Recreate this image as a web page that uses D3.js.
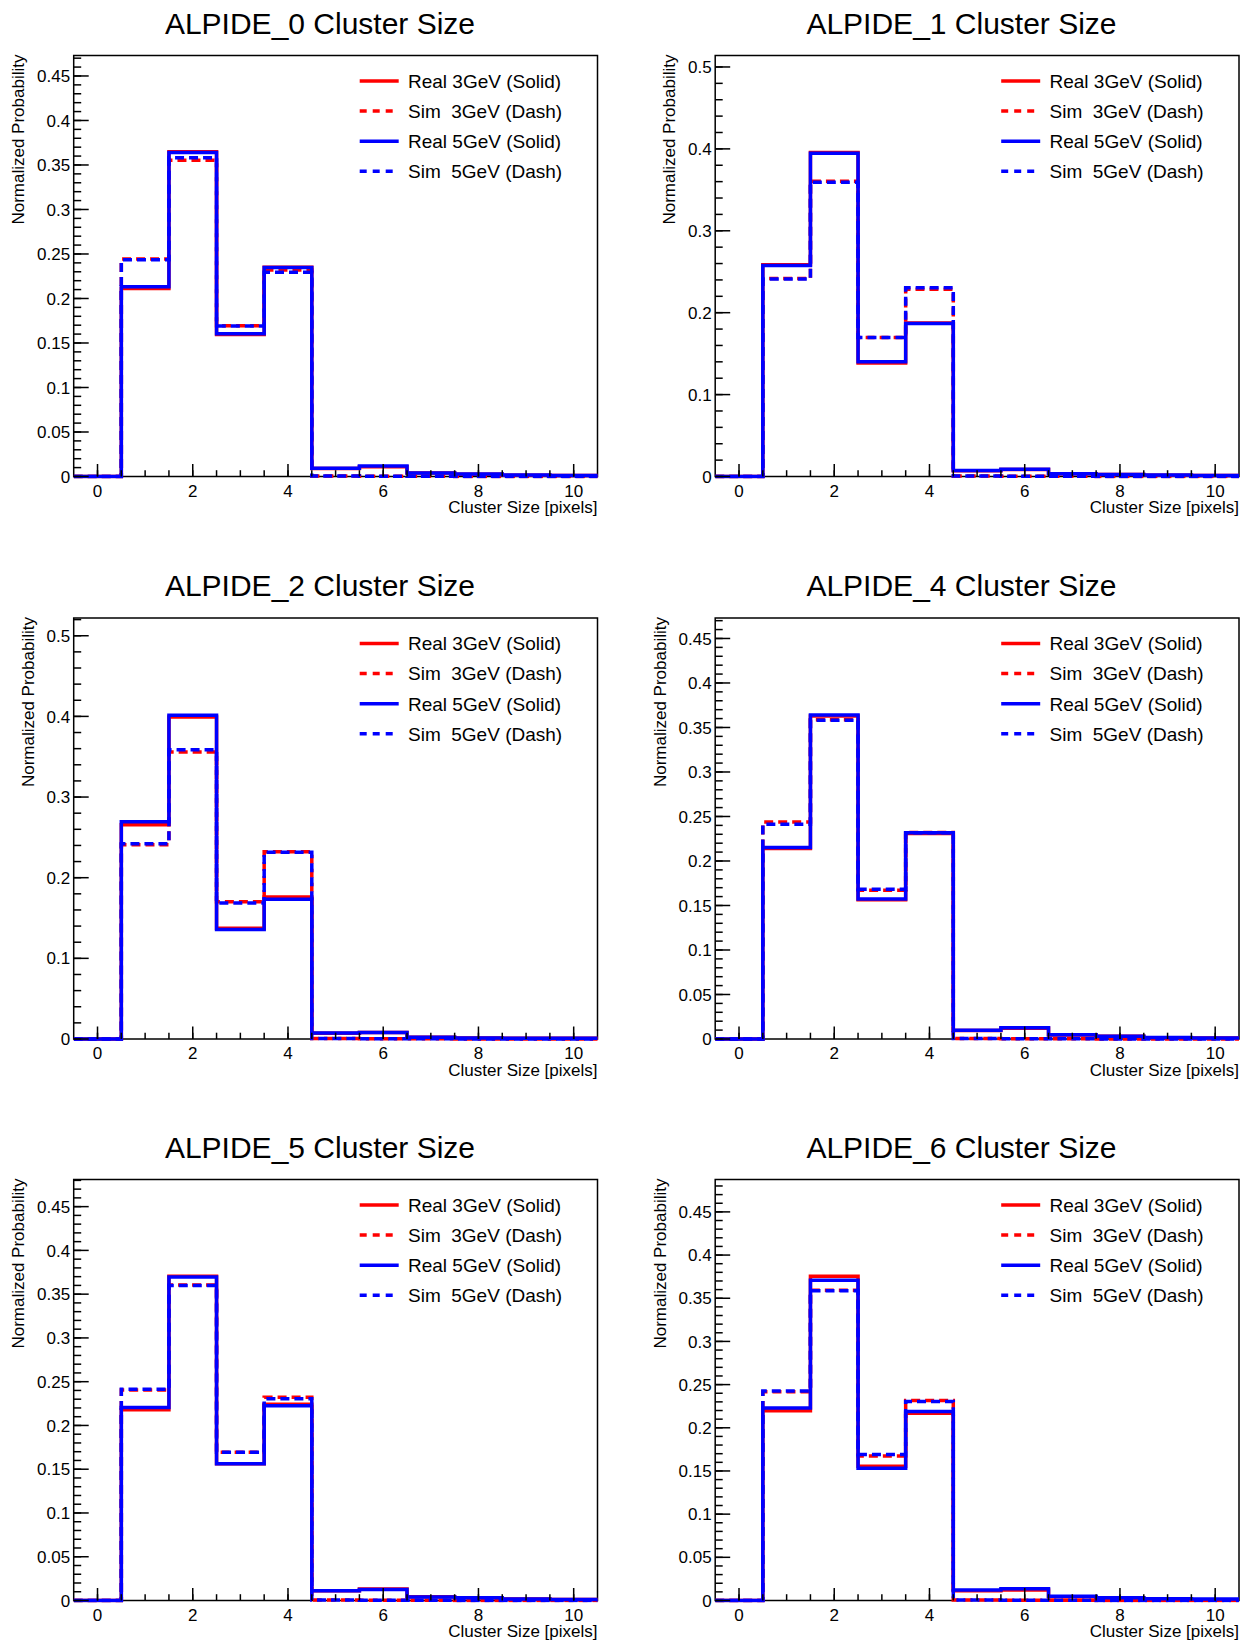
<!DOCTYPE html>
<html>
<head>
<meta charset="utf-8">
<script src="https://cdn.jsdelivr.net/npm/d3@7"></script>
<style>
  html, body { margin: 0; padding: 0; background: #fff; }
  svg { display: block; font-family: "Liberation Sans", Arial, Helvetica, sans-serif; }
  text { white-space: pre; fill: #000; }
</style>
</head>
<body>
<svg id="chart" width="1246" height="1644"></svg>
<script>
// ---- data -------------------------------------------------------------
const panelTitles = [
  "ALPIDE_0 Cluster Size", "ALPIDE_1 Cluster Size",
  "ALPIDE_2 Cluster Size", "ALPIDE_4 Cluster Size",
  "ALPIDE_5 Cluster Size", "ALPIDE_6 Cluster Size"
];
// cluster size bins 0..10
const clusterSizes = [0, 1, 2, 3, 4, 5, 6, 7, 8, 9, 10];

// normalized probabilities per detector, one row per ALPIDE (0,1,2,4,5,6)
const real3GeV = [
  [0, 0.2113, 0.3650, 0.1595, 0.2352, 0.0090, 0.0110, 0.0038, 0.0025, 0.0015, 0.0010],
  [0, 0.2585, 0.3955, 0.1387, 0.1875, 0.0070, 0.0085, 0.0033, 0.0024, 0.0016, 0.0012],
  [0, 0.2658, 0.3994, 0.1374, 0.1762, 0.0070, 0.0080, 0.0022, 0.0013, 0.0009, 0.0008],
  [0, 0.2140, 0.3630, 0.1565, 0.2309, 0.0095, 0.0120, 0.0045, 0.0030, 0.0015, 0.0011],
  [0, 0.2178, 0.3705, 0.1562, 0.2242, 0.0110, 0.0130, 0.0042, 0.0032, 0.0016, 0.0012],
  [0, 0.2196, 0.3755, 0.1555, 0.2168, 0.0113, 0.0121, 0.0042, 0.0030, 0.0015, 0.0010]
];
const sim3GeV = [
  [0, 0.2445, 0.3553, 0.1695, 0.2320, 0.0005, 0.0003, 0.0002, 0.0001, 0.0001, 0.0001],
  [0, 0.2418, 0.3605, 0.1697, 0.2285, 0.0005, 0.0003, 0.0002, 0.0001, 0.0001, 0.0001],
  [0, 0.2408, 0.3559, 0.1702, 0.2322, 0.0005, 0.0003, 0.0002, 0.0001, 0.0001, 0.0001],
  [0, 0.2438, 0.3588, 0.1670, 0.2320, 0.0005, 0.0003, 0.0002, 0.0001, 0.0001, 0.0001],
  [0, 0.2405, 0.3606, 0.1693, 0.2322, 0.0005, 0.0003, 0.0002, 0.0001, 0.0001, 0.0001],
  [0, 0.2417, 0.3594, 0.1672, 0.2317, 0.0005, 0.0003, 0.0002, 0.0001, 0.0001, 0.0001]
];
const real5GeV = [
  [0, 0.2133, 0.3640, 0.1604, 0.2348, 0.0094, 0.0117, 0.0039, 0.0027, 0.0016, 0.0010],
  [0, 0.2575, 0.3946, 0.1400, 0.1867, 0.0072, 0.0089, 0.0034, 0.0025, 0.0017, 0.0013],
  [0, 0.2693, 0.4015, 0.1357, 0.1732, 0.0073, 0.0082, 0.0022, 0.0013, 0.0009, 0.0008],
  [0, 0.2152, 0.3639, 0.1573, 0.2316, 0.0098, 0.0125, 0.0047, 0.0031, 0.0016, 0.0012],
  [0, 0.2206, 0.3697, 0.1562, 0.2226, 0.0111, 0.0127, 0.0040, 0.0032, 0.0016, 0.0012],
  [0, 0.2228, 0.3707, 0.1531, 0.2188, 0.0121, 0.0137, 0.0048, 0.0032, 0.0020, 0.0016]
];
const sim5GeV = [
  [0, 0.2435, 0.3580, 0.1690, 0.2295, 0.0005, 0.0003, 0.0002, 0.0001, 0.0001, 0.0001],
  [0, 0.2410, 0.3594, 0.1697, 0.2305, 0.0005, 0.0003, 0.0002, 0.0001, 0.0001, 0.0001],
  [0, 0.2421, 0.3585, 0.1685, 0.2314, 0.0005, 0.0003, 0.0002, 0.0001, 0.0001, 0.0001],
  [0, 0.2414, 0.3580, 0.1683, 0.2316, 0.0005, 0.0003, 0.0002, 0.0001, 0.0001, 0.0001],
  [0, 0.2413, 0.3598, 0.1693, 0.2306, 0.0005, 0.0003, 0.0002, 0.0001, 0.0001, 0.0001],
  [0, 0.2425, 0.3586, 0.1692, 0.2305, 0.0005, 0.0003, 0.0002, 0.0001, 0.0001, 0.0001]
];

const seriesNames  = ["Real 3GeV (Solid)", "Sim  3GeV (Dash)", "Real 5GeV (Solid)", "Sim  5GeV (Dash)"];
const seriesData   = [real3GeV, sim3GeV, real5GeV, sim5GeV];
const seriesColors = ["#ff0000", "#ff0000", "#0000ff", "#0000ff"];
const seriesDashed = [false, true, false, true];

// axis settings
const xDomain = [-0.5, 10.5];
const xMajorTicks = [0, 2, 4, 6, 8, 10];
const yAxisMax   = [0.473, 0.514, 0.522, 0.473, 0.481, 0.4875];
const yMajorStep = [0.05, 0.1, 0.1, 0.05, 0.05, 0.05];
const yMinorStep = [0.01, 0.02, 0.02, 0.01, 0.01, 0.01];
const xTitle = "Cluster Size [pixels]";
const yTitle = "Normalized Probability";

// ---- layout -----------------------------------------------------------
const frameLefts = [73.7, 715.2];
const frameTops  = [55.5, 618, 1179.5];
const frameW = 523.8, frameH = 421;
const fontAxis = 17;
const histWidth = 3.5;

const svg = d3.select("#chart");
svg.append("rect").attr("width", 1246).attr("height", 1644).attr("fill", "#fff");

const fmt = d3.format("~g");

panelTitles.forEach((title, p) => {
  const fx = frameLefts[p % 2];
  const fy = frameTops[Math.floor(p / 2)];
  const g = svg.append("g").attr("transform", `translate(${fx},${fy})`);

  const x = d3.scaleLinear().domain(xDomain).range([0, frameW]);
  const y = d3.scaleLinear().domain([0, yAxisMax[p]]).range([frameH, 0]);

  // title
  g.append("text")
    .attr("x", 246.3).attr("y", -21.8)
    .attr("text-anchor", "middle")
    .attr("font-size", 30)
    .text(title);

  // frame
  g.append("rect")
    .attr("width", frameW).attr("height", frameH)
    .attr("fill", "none").attr("stroke", "#000").attr("stroke-width", 1.5);

  // clip for histogram lines
  const clipId = `clip${p}`;
  g.append("clipPath").attr("id", clipId)
    .append("rect").attr("x", 0).attr("y", -2).attr("width", frameW + 2).attr("height", frameH + 4);

  // histograms (step outlines)
  const line = d3.line()
    .x(d => x(d[0]))
    .y(d => y(d[1]))
    .curve(d3.curveStepAfter);

  seriesData.forEach((rows, s) => {
    const vals = rows[p];
    const pts = clusterSizes.map((c, i) => [c - 0.5, vals[i]]);
    pts.push([clusterSizes[clusterSizes.length - 1] + 0.5, vals[vals.length - 1]]);
    g.append("path")
      .attr("clip-path", `url(#${clipId})`)
      .attr("d", line(pts))
      .attr("fill", "none")
      .attr("stroke", seriesColors[s])
      .attr("stroke-width", histWidth)
      .attr("stroke-dasharray", seriesDashed[s] ? "9,5" : null)
      .attr("stroke-linejoin", "miter");
  });

  // y axis ticks (inside the frame)
  const yMax = yAxisMax[p];
  const minorY = d3.range(0, yMax + 1e-9, yMinorStep[p]);
  const majorY = d3.range(0, yMax + 1e-9, yMajorStep[p]).map(v => +v.toFixed(4));
  g.append("g").selectAll("line").data(minorY).join("line")
    .attr("x1", 0).attr("x2", 7.5)
    .attr("y1", d => y(d)).attr("y2", d => y(d))
    .attr("stroke", "#000").attr("stroke-width", 1.5);
  g.append("g").selectAll("line").data(majorY).join("line")
    .attr("x1", 0).attr("x2", 15)
    .attr("y1", d => y(d)).attr("y2", d => y(d))
    .attr("stroke", "#000").attr("stroke-width", 1.5);
  const yLabels = g.append("g").selectAll("text").data(majorY).join("text")
    .attr("x", -3.5).attr("y", d => y(d))
    .attr("dy", "0.36em")
    .attr("text-anchor", "end")
    .attr("font-size", fontAxis)
    .text(d => fmt(d));

  // x axis ticks (inside the frame)
  const minorX = d3.range(-0.5, 10.5 + 1e-9, 0.5).filter(v => v > -0.5 && v < 10.5);
  g.append("g").selectAll("line").data(minorX).join("line")
    .attr("x1", d => x(d)).attr("x2", d => x(d))
    .attr("y1", frameH).attr("y2", frameH - 6.3)
    .attr("stroke", "#000").attr("stroke-width", 1.5);
  g.append("g").selectAll("line").data(xMajorTicks).join("line")
    .attr("x1", d => x(d)).attr("x2", d => x(d))
    .attr("y1", frameH).attr("y2", frameH - 12.5)
    .attr("stroke", "#000").attr("stroke-width", 1.5);
  g.append("g").selectAll("text").data(xMajorTicks).join("text")
    .attr("x", d => x(d)).attr("y", frameH + 20)
    .attr("text-anchor", "middle")
    .attr("font-size", fontAxis)
    .text(d => fmt(d));

  // axis titles
  g.append("text")
    .attr("x", frameW).attr("y", frameH + 36.7)
    .attr("text-anchor", "end")
    .attr("font-size", fontAxis)
    .text(xTitle);

  let maxLabelW = 0;
  yLabels.each(function () { maxLabelW = Math.max(maxLabelW, this.getComputedTextLength()); });
  const titleX = -3.5 - maxLabelW - 12.7;
  g.append("text")
    .attr("transform", `translate(${titleX},-1) rotate(-90)`)
    .attr("text-anchor", "end")
    .attr("font-size", fontAxis)
    .text(yTitle);

  // legend
  const legend = g.append("g").attr("transform", "translate(286,25.5)");
  seriesNames.forEach((name, s) => {
    const ly = s * 30.1;
    legend.append("line")
      .attr("x1", 0).attr("x2", 39).attr("y1", ly).attr("y2", ly)
      .attr("stroke", seriesColors[s]).attr("stroke-width", histWidth)
      .attr("stroke-dasharray", seriesDashed[s] ? "7,6" : null);
    legend.append("text")
      .attr("x", 48.3).attr("y", ly).attr("dy", "0.36em")
      .attr("font-size", 19)
      .text(name);
  });
});
</script>
</body>
</html>
